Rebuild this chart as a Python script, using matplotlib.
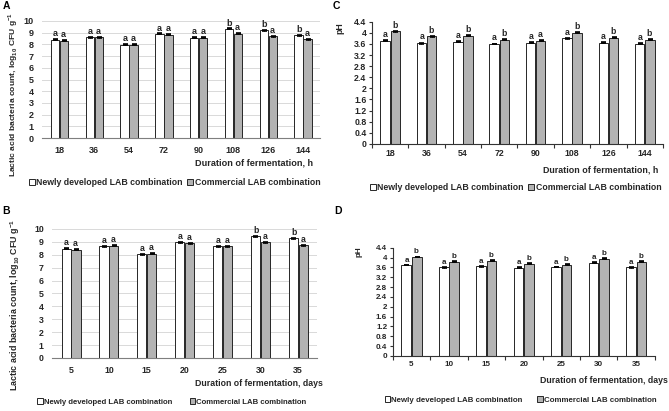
import matplotlib
matplotlib.use("Agg")
import matplotlib.pyplot as plt
import numpy as np
from matplotlib.patches import Patch

plt.rcParams['font.family'] = ['Liberation Sans', 'DejaVu Sans']
plt.rcParams['mathtext.fontset'] = 'custom'
plt.rcParams['mathtext.rm'] = 'Liberation Sans'
plt.rcParams['mathtext.bf'] = 'Liberation Sans:bold'

# ---------------- data ----------------
hours = ["18", "36", "54", "72", "90", "108", "126", "144"]
days = ["5", "10", "15", "20", "25", "30", "35"]

lab_new_h = [8.40, 8.60, 7.98, 8.89, 8.58, 9.32, 9.20, 8.78]
lab_com_h = [8.32, 8.60, 7.98, 8.84, 8.58, 8.90, 8.70, 8.42]
lab_let_new_h = ["a", "a", "a", "a", "a", "b", "b", "b"]
lab_let_com_h = ["a", "a", "a", "a", "a", "a", "a", "a"]

lab_new_d = [8.45, 8.66, 8.04, 8.96, 8.64, 9.42, 9.27]
lab_com_d = [8.38, 8.70, 8.06, 8.90, 8.64, 8.96, 8.75]
lab_let_new_d = ["a", "a", "a", "a", "a", "b", "b"]
lab_let_com_d = ["a", "a", "a", "a", "a", "a", "a"]

ph_new_h = [3.72, 3.63, 3.68, 3.60, 3.65, 3.80, 3.64, 3.61]
ph_com_h = [4.05, 3.87, 3.90, 3.76, 3.72, 4.00, 3.83, 3.75]
ph_let_new_h = ["a", "a", "a", "a", "a", "a", "a", "a"]
ph_let_com_h = ["b", "b", "b", "b", "a", "b", "b", "b"]

ph_new_d = [3.70, 3.60, 3.65, 3.59, 3.62, 3.79, 3.60]
ph_com_d = [4.03, 3.84, 3.87, 3.75, 3.71, 3.96, 3.83]
ph_let_new_d = ["a", "a", "a", "a", "a", "a", "a"]
ph_let_com_d = ["b", "b", "b", "b", "b", "b", "b"]

lab_err = 0.04
ph_err = 0.015

legend_labels = ["Newly developed LAB combination", "Commercial LAB combination"]

WHITE = "#ffffff"
GRAY = "#b3b3b3"
EDGE = "#262626"
TXT = "#262626"

fig = plt.figure(figsize=(6.69, 4.11), dpi=100)


def panel(rect, cats, new, com, let_new, let_com, err, ylim, yticks, ytl,
          xlabel, ylabel, grid, spine_left, width, letter_off, fs_tick, fs_lab, fs_y):
    ax = fig.add_axes(rect)
    x = np.arange(len(cats))
    ax.bar(x - width / 2 - 0.01, new, width, color=WHITE, edgecolor=EDGE, linewidth=0.7,
           yerr=err, error_kw=dict(ecolor="black", capsize=1.8, elinewidth=0.8, capthick=1.2))
    ax.bar(x + width / 2 + 0.01, com, width, color=GRAY, edgecolor=EDGE, linewidth=0.7,
           yerr=err, error_kw=dict(ecolor="black", capsize=1.8, elinewidth=0.8, capthick=1.2))
    for i in range(len(cats)):
        ax.text(x[i] - width / 2, new[i] + letter_off, let_new[i], ha="center", va="bottom",
                fontsize=fs_tick, fontweight="bold", color=TXT)
        ax.text(x[i] + width / 2, com[i] + letter_off, let_com[i], ha="center", va="bottom",
                fontsize=fs_tick, fontweight="bold", color=TXT)
    ax.set_xlim(-0.5, len(cats) - 0.5)
    ax.set_ylim(*ylim)
    ax.set_yticks(yticks)
    ax.set_yticklabels(ytl)
    ax.set_xticks(x)
    ax.set_xticklabels(cats)
    for s in ["top", "right"]:
        ax.spines[s].set_visible(False)
    ax.spines["bottom"].set_color("#7f7f7f" if grid else "#333333")
    ax.spines["bottom"].set_linewidth(0.8)
    if spine_left:
        ax.spines["left"].set_color("#333333")
        ax.spines["left"].set_linewidth(0.8)
        ax.tick_params(axis="y", length=2.5, width=0.8, color="#333333", pad=1.5)
        ax.tick_params(axis="x", length=0, pad=4)
        ax.set_xticks(np.arange(len(cats) + 1) - 0.5, minor=True)
        ax.tick_params(axis="x", which="minor", length=3, width=0.8, color="#333333")
    else:
        ax.spines["left"].set_visible(False)
        ax.tick_params(axis="both", length=0)
        ax.tick_params(axis="y", pad=6)
        ax.tick_params(axis="x", pad=6)
    if grid:
        ax.yaxis.grid(True, color="#d9d9d9", linewidth=0.7)
        ax.set_axisbelow(True)
    for lab in ax.get_xticklabels() + ax.get_yticklabels():
        lab.set_fontsize(fs_tick)
        lab.set_fontweight("bold")
        lab.set_color(TXT)
    ax.set_ylabel(ylabel[0], fontsize=fs_y, fontweight="bold", color=TXT)
    ax.yaxis.set_label_coords(*ylabel[1])
    ax.set_xlabel(xlabel[0], fontsize=fs_lab, fontweight="bold", color=TXT, ha="right")
    ax.xaxis.set_label_coords(*xlabel[1])
    return ax


ylab_lab = r"Lactic acid bacteria count, log$_{\mathregular{10}}$ CFU g$^{\mathregular{-1}}$"

lab_ticks = list(range(0, 11))
ph_ticks = [0, 0.4, 0.8, 1.2, 1.6, 2.0, 2.4, 2.8, 3.2, 3.6, 4.0, 4.4]
ph_tl = ["0", "0.4", "0.8", "1.2", "1.6", "2", "2.4", "2.8", "3.2", "3.6", "4", "4.4"]

# A
panel([0.063, 0.664, 0.416, 0.285], hours, lab_new_h, lab_com_h, lab_let_new_h, lab_let_com_h,
      lab_err, (0, 10), lab_ticks, [str(t) for t in lab_ticks],
      ("Duration of fermentation, h", (0.975, -0.17)),
      (ylab_lab, (-0.08, 0.37)), True, False, 0.24, 0.12, 6.5, 6.6, 6.1)
# C
panel([0.556, 0.650, 0.435, 0.297], hours, ph_new_h, ph_com_h, ph_let_new_h, ph_let_com_h,
      ph_err, (0, 4.4), ph_ticks, ph_tl,
      ("Duration of fermentation, h", (0.983, -0.18)),
      ("pH", (-0.095, 0.95)), False, True, 0.26, 0.06, 6.3, 6.4, 6.3)
# B
panel([0.078, 0.129, 0.396, 0.314], days, lab_new_d, lab_com_d, lab_let_new_d, lab_let_com_d,
      lab_err, (0, 10), lab_ticks, [str(t) for t in lab_ticks],
      ("Duration of fermentation, days", (1.02, -0.16)),
      (ylab_lab, (-0.115, 0.41)), True, False, 0.24, 0.12, 6.3, 6.3, 6.4)
# D
panel([0.587, 0.134, 0.392, 0.263], days, ph_new_d, ph_com_d, ph_let_new_d, ph_let_com_d,
      ph_err, (0, 4.4), ph_ticks, ph_tl,
      ("Duration of fermentation, days", (1.05, -0.19)),
      ("pH", (-0.115, 0.96)), False, True, 0.26, 0.06, 5.8, 6.3, 5.8)

handles = [Patch(facecolor=WHITE, edgecolor=EDGE, linewidth=0.7),
           Patch(facecolor=GRAY, edgecolor=EDGE, linewidth=0.7)]


def legend(x, y, colsp, fs):
    lg = fig.legend(handles, legend_labels, loc="center left", bbox_to_anchor=(x, y), ncol=2,
                    frameon=False, handlelength=0.7, handleheight=0.7, handletextpad=0.15,
                    columnspacing=colsp, borderpad=0, borderaxespad=0,
                    prop=dict(size=fs, weight="bold"))
    for t in lg.get_texts():
        t.set_color(TXT)


legend(0.043, 0.555, 0.5, 6.3)
legend(0.553, 0.543, 0.5, 6.3)
legend(0.056, 0.022, 2.2, 5.6)
legend(0.575, 0.027, 1.8, 5.7)

for lbl, (x, y) in zip("ACBD", [(0.004, 0.997), (0.497, 0.997), (0.004, 0.499), (0.5, 0.499)]):
    fig.text(x, y, lbl, fontsize=7.5, fontweight="bold", ha="left", va="top", color="black")

fig.savefig("out.png", dpi=100, facecolor="white")
